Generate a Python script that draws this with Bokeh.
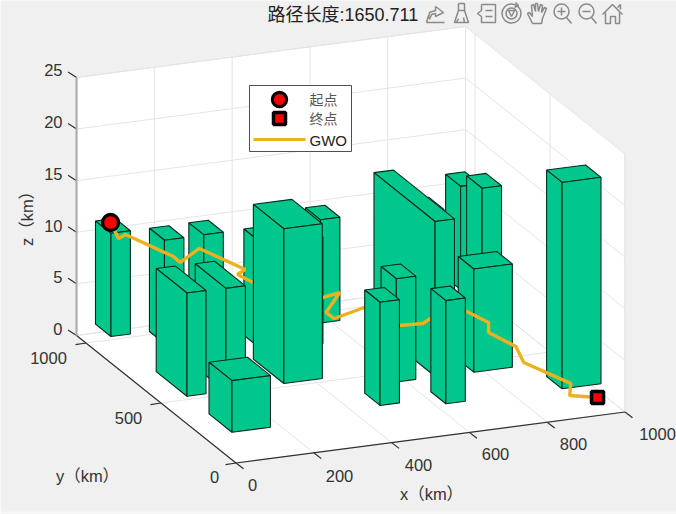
from math import pi
import numpy as np
from bokeh.core.properties import value
from bokeh.embed import file_html
from bokeh.models import Range1d
from bokeh.plotting import figure
from bokeh.resources import INLINE

# ---- data ----
title_text = "路径长度:1650.711"
x_ticks = [0, 200, 400, 600, 800, 1000]
y_ticks = [0, 500, 1000]
z_ticks = [0, 5, 10, 15, 20, 25]
x_lim = 1000
y_lim = 1063
z_lim = 25

# buildings
box_x0 = [73, 172, 274, 370, 573, 679, 739, 975, 1017, 776, 578, 925, 325, 76, 175, 76, 477, 627]
box_x1 = [123, 222, 324, 522, 623, 729, 789, 1025, 1067, 875, 628, 1025, 424, 125, 225, 175, 527, 677]
box_y0 = [1023, 923, 925, 774, 923, 434, 660, 1031, 997, 427, 430, 225, 524, 524, 521, 224, 277, 227]
box_y1 = [1126, 1023, 1025, 907, 1023, 841, 760, 1131, 1100, 531, 532, 328, 727, 729, 726, 377, 379, 327]
box_z = [10, 10, 10, 10.3, 10, 15, 13, 10, 10, 10, 10, 20, 15, 10, 10, 5, 10, 10]
box_front = [0, 0, 0, 0, 0, 0, 0, 0, 0, 0, 0, 0, 1, 1, 1, 1, 1, 1]

# path
path_x = [45, 47, 59, 147, 160, 198, 284, 267, 294, 436, 472, 429, 445, 513, 583, 641, 658, 727, 789, 790, 840, 842, 902, 895, 951]
path_y = [953, 905, 890, 798, 786, 758, 675, 683, 648, 549, 532, 513, 499, 476, 425, 417, 409, 360, 362, 365, 313, 265, 108, 96, 56]
path_z = [12, 11, 11.5, 10, 9.5, 11, 9.5, 9, 8.5, 7.5, 8, 6.5, 6, 7, 5.5, 5.5, 6, 7, 5.5, 4.5, 3.5, 2.5, 2, 1, 1]

legend_labels = ["起点", "终点", "GWO"]

# ---- style ----
BG = "#f0f0f0"
GREEN = "#00c88c"
PATH = "#edb120"
GRID = "#e4e4e4"
TXT = "#333333"
ICON = "#8a8a8a"
FONT = value("Liberation Sans, Noto Sans CJK SC")


def proj(x, y, z=0):
    x, y, z = np.asarray(x, float), np.asarray(y, float), np.asarray(z, float)
    return 235.5 + 0.389 * x - 0.15 * y, 462.5 - 0.051 * x - 0.12 * y - 10.32 * z


p = figure(width=676, height=514, output_backend="svg", toolbar_location=None,
           x_range=Range1d(0, 676), y_range=Range1d(514, 0), min_border=0,
           background_fill_color=BG, border_fill_color=BG, outline_line_color=None)
p.axis.visible = False
p.grid.visible = False
p.styles = {"text-spacing-trim": "space-all", "font-feature-settings": "'chws' 0, 'halt' 0"}

p.line([0, 676], [512, 512], line_color="#f9f9f9", line_width=1.5)

# ---- axes box ----
walls = [([0, x_lim, x_lim, 0], [0, 0, y_lim, y_lim], [0, 0, 0, 0]),
         ([0, x_lim, x_lim, 0], [y_lim] * 4, [0, 0, z_lim, z_lim]),
         ([x_lim] * 4, [0, y_lim, y_lim, 0], [0, 0, z_lim, z_lim])]
wx, wy = [], []
for a, b, c in walls:
    sx, sy = proj(a, b, c)
    wx.append(sx)
    wy.append(sy)
p.patches(wx, wy, fill_color="white", line_color=None)

gx, gy = [], []


def seg(a, b):
    s = proj(*a)
    e = proj(*b)
    gx.append([float(s[0]), float(e[0])])
    gy.append([float(s[1]), float(e[1])])


for t in x_ticks:
    seg((t, 0, 0), (t, y_lim, 0))
    seg((t, y_lim, 0), (t, y_lim, z_lim))
for t in y_ticks:
    seg((0, t, 0), (x_lim, t, 0))
    seg((x_lim, t, 0), (x_lim, t, z_lim))
for t in z_ticks:
    seg((0, y_lim, t), (x_lim, y_lim, t))
    seg((x_lim, y_lim, t), (x_lim, 0, t))
seg((0, y_lim, 0), (x_lim, y_lim, 0))
seg((0, y_lim, z_lim), (x_lim, y_lim, z_lim))
seg((x_lim, 0, 0), (x_lim, 0, z_lim))
p.multi_line(gx, gy, line_color=GRID, line_width=1)

gx, gy = [], []
seg((0, 0, 0), (0, y_lim, 0))
seg((0, 0, 0), (x_lim, 0, 0))
for t in x_ticks:
    s = proj(t, 0, 0)
    gx.append([float(s[0]), float(s[0]) + 7.5])
    gy.append([float(s[1]), float(s[1]) + 5.8])
for t in y_ticks:
    s = proj(0, t, 0)
    gx.append([float(s[0]), float(s[0]) - 10.5])
    gy.append([float(s[1]), float(s[1]) + 1.6])
for t in z_ticks:
    s = proj(0, y_lim, t)
    gx.append([float(s[0]), float(s[0]) - 8.5])
    gy.append([float(s[1]), float(s[1]) - 5.5])
p.multi_line(gx, gy, line_color="#303030", line_width=1.2)
zs = proj([0, 0], [y_lim, y_lim], [0, z_lim])
p.line(zs[0], zs[1], line_color="#a8a8a8", line_width=2)


# ---- buildings ----
def faces(i):
    a0, a1, b0, b1, h = box_x0[i], box_x1[i], box_y0[i], box_y1[i], box_z[i]
    return [([a0, a1, a1, a0], [b0, b0, b1, b1], [h] * 4),
            ([a0, a0, a0, a0], [b0, b1, b1, b0], [0, 0, h, h]),
            ([a0, a1, a1, a0], [b0, b0, b0, b0], [0, 0, h, h])]


def draw_boxes(front):
    ids = [i for i in range(len(box_z)) if box_front[i] == front]
    ids.sort(key=lambda i: -(0.15 * (box_x0[i] + box_x1[i]) + 0.39 * (box_y0[i] + box_y1[i])))
    xs, ys = [], []
    for i in ids:
        for a, b, c in faces(i):
            sx, sy = proj(a, b, c)
            xs.append(sx)
            ys.append(sy)
    p.patches(xs, ys, fill_color=GREEN, line_color="#06281e", line_width=1.1)


draw_boxes(0)
px, py = proj(path_x, path_y, path_z)
p.line(px, py, line_color=PATH, line_width=3.4)
draw_boxes(1)

p.scatter([px[0]], [py[0]], marker="circle", size=16, fill_color="red", line_color="black", line_width=3.3)
p.scatter([px[-1]], [py[-1]], marker="square", size=12, fill_color="red", line_color="black", line_width=3.5)


# ---- tick labels ----
def label(x, y, txt, size, align="center", angle=0.0, color=TXT):
    p.text([x], [y], text=[txt], text_font=FONT, text_font_size=size, text_color=color,
           text_align=align, text_baseline="middle", angle=angle)


for t, lx, ly in zip(x_ticks, [252, 339, 418, 495, 573, 657], [484, 475, 464, 453, 443, 433]):
    label(lx, ly, str(t), "16.5px")
for t, lx, ly in zip(y_ticks, [214, 128, 48], [476, 417, 357]):
    label(lx, ly, str(t), "16.5px")
for t, ly in zip(z_ticks, [328, 276, 225, 173, 121, 69]):
    label(62, ly, str(t), "16.5px", align="right")

label(431, 493, "x（km）", "16.5px")
label(87, 475, "y（km）", "16.5px")
label(26, 214, "z（km）", "16.5px", angle=pi / 2)
label(267, 14, title_text, "18px", align="left", color="#222222")

# ---- legend ----
lb = p.quad(left=[249], right=[351], top=[85], bottom=[151], fill_color="white", line_color="#505050", line_width=1)
p.scatter([279], [99], marker="circle", size=14.2, fill_color="red", line_color="black", line_width=3.2)
p.scatter([279], [118], marker="square", size=12, fill_color="red", line_color="black", line_width=3.5)
p.line([253, 305], [139, 139], line_color=PATH, line_width=3)
for txt, ly, s, c in zip(legend_labels, [99, 118, 140], ["14px", "14px", "15px"], ["#555555", "#555555", "#222222"]):
    label(309, ly, txt, s, align="left", color=c)

# ---- axes toolbar icons ----
ic = [435, 461, 486, 511, 536, 561, 586, 612]
cy = 13
shapes = {
    0: [[(-9, 9), (9, 9)], [(-9, 9), (-7, 2)], [(-7, 5), (-6, -1), (0, -3), (0, -7), (8, -1), (0, 3), (0, 0), (-4, 1), (-6, 6)]],
    1: [[(-3, -10), (3, -10), (3, -3), (-3, -3), (-3, -10)], [(-3, -3), (-7, 9), (7, 9), (3, -3)], [(-3, 5), (-5, 9)], [(2, 4), (3, 9)]],
    2: [[(-5, -9), (9, -9), (9, 9), (-5, 9), (-5, 3), (-9, 0), (-5, -3), (-5, -9)], [(-1, -3), (6, -3)], [(-1, 3), (6, 3)]],
    3: [[(-3, -3), (3, -3), (0, 3), (-3, -3)], [(4, -11), (7, -8), (3, -6)]],
    4: [[(-4, 10), (-9, 0), (-7, -1), (-4, 3), (-5, -8), (-3, -9), (-1, -2), (-1, -10), (1, -10), (2, -2), (4, -9), (6, -8), (5, -1), (8, -6), (10, -5), (6, 5), (5, 10), (-4, 10)]],
    5: [[(-4, -2), (4, -2)], [(0, -6), (0, 2)], [(5, 4), (10, 10)]],
    6: [[(-4, -2), (4, -2)], [(5, 4), (10, 10)]],
    7: [[(-10, 1), (0, -9), (10, 1)], [(-7, -1), (-7, 10), (-2, 10), (-2, 3), (3, 3), (3, 10), (7, 10), (7, -1)], [(5, -6), (8, -9), (8, -4)]],
}
ix, iy = [], []
for k, lines in shapes.items():
    for ln in lines:
        ix.append([ic[k] + a for a, _ in ln])
        iy.append([cy + b for _, b in ln])
p.multi_line(ix, iy, line_color=ICON, line_width=1.5)
p.scatter([ic[3], ic[3], ic[5], ic[6]], [cy, cy, cy - 2, cy - 2], marker="circle", size=[19, 11, 15, 15],
          fill_color=None, line_color=ICON, line_width=1.5)

open("out.html", "w").write(file_html(p, INLINE))
